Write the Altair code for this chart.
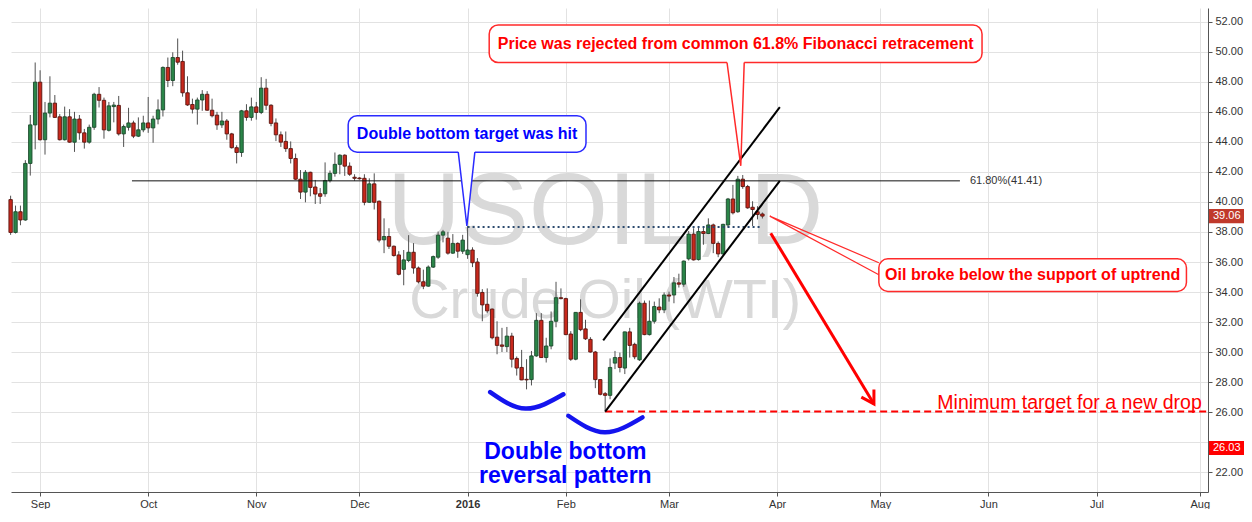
import altair as alt
import pandas as pd

FONT = "Liberation Sans"

# ---------------- candle data (bar index: 0 = 1 Sep 2015, trading days) ----------------
bar = list(range(-6, 148))
open_ = [40.16, 37.97, 39.35, 38.80, 42.57, 45.14, 47.99, 44.15, 45.93, 46.59,
         45.68, 44.15, 45.68, 43.99, 45.53, 44.61, 43.99, 44.98, 47.18, 46.78,
         44.78, 46.36, 46.44, 44.54, 44.98, 45.27, 44.39, 44.81, 45.27, 44.94,
         45.53, 46.14, 48.97, 48.10, 49.63, 49.37, 47.28, 46.50, 46.19, 46.80,
         47.18, 46.12, 45.79, 45.14, 45.40, 44.54, 43.62, 43.30, 46.08, 45.64,
         46.34, 45.97, 47.59, 46.45, 45.27, 44.48, 44.04, 43.56, 42.90, 41.52,
         40.66, 41.98, 41.00, 40.55, 40.55, 41.43, 41.91, 42.51, 43.12, 42.39,
         41.65, 41.60, 41.58, 39.98, 41.21, 40.05, 37.48, 37.70, 37.05, 36.47,
         35.51, 36.10, 36.65, 35.60, 34.68, 34.39, 35.66, 36.32, 37.79, 37.59,
         36.59, 37.24, 36.72, 36.49, 36.80, 36.00, 33.97, 33.18, 32.86, 30.99,
         30.47, 30.36, 31.06, 29.57, 28.97, 28.18, 28.16, 29.74, 32.11, 29.63,
         30.40, 32.05, 33.62, 33.56, 31.20, 29.52, 32.64, 31.54, 30.84, 30.00,
         28.16, 27.22, 27.11, 29.26, 29.63, 28.93, 31.34, 30.51, 29.48, 33.25,
         31.16, 32.05, 33.00, 32.81, 33.80, 33.80, 34.61, 34.52, 36.21, 37.86,
         36.16, 38.03, 37.90, 38.47, 37.24, 36.54, 38.47, 40.20, 39.35, 41.52,
         41.03, 39.65, 39.35, 39.20]
high = [40.42, 39.76, 39.76, 42.79, 45.80, 49.30, 48.78, 46.67, 48.38, 47.13,
        45.86, 46.36, 46.19, 46.01, 45.80, 44.87, 45.16, 47.28, 47.66, 46.96,
        46.67, 46.67, 47.07, 45.16, 46.28, 45.42, 45.64, 45.75, 47.00, 45.75,
        46.84, 49.04, 49.63, 49.98, 50.90, 50.09, 48.38, 46.89, 46.96, 47.46,
        47.39, 46.89, 46.01, 46.01, 45.53, 44.61, 43.78, 46.14, 46.52, 46.96,
        46.67, 48.32, 48.21, 46.52, 45.57, 44.70, 44.70, 44.04, 43.23, 42.13,
        42.13, 42.02, 41.47, 40.93, 42.64, 42.10, 43.30, 43.18, 43.18, 42.64,
        41.85, 41.65, 41.85, 41.58, 41.91, 40.10, 38.91, 38.25, 37.10, 36.72,
        36.80, 37.79, 37.26, 35.70, 35.49, 35.77, 36.43, 38.03, 38.14, 38.01,
        37.86, 37.31, 37.81, 38.40, 36.98, 36.26, 34.19, 34.24, 32.90, 32.05,
        31.61, 31.67, 31.28, 29.70, 30.14, 29.52, 30.07, 32.59, 32.59, 30.95,
        32.70, 34.68, 34.24, 33.62, 31.39, 32.66, 33.51, 32.15, 30.99, 30.07,
        28.18, 27.33, 29.57, 30.07, 29.96, 31.36, 31.61, 30.62, 33.36, 33.43,
        33.43, 33.36, 33.58, 33.97, 34.02, 35.00, 35.22, 36.10, 38.07, 38.25,
        38.34, 38.30, 38.91, 38.56, 37.37, 38.55, 40.27, 41.14, 41.74, 41.80,
        41.14, 40.05, 39.72, 39.30]
low = [37.81, 37.90, 38.45, 38.75, 41.76, 43.51, 44.10, 43.16, 45.64, 45.60,
       44.10, 44.10, 43.95, 43.34, 44.15, 43.56, 43.89, 44.81, 46.30, 44.22,
       44.70, 45.31, 44.43, 43.67, 44.76, 44.26, 44.33, 44.65, 44.61, 43.95,
       45.18, 45.70, 47.66, 47.72, 49.15, 47.02, 46.41, 45.90, 45.16, 46.08,
       46.08, 45.64, 44.81, 44.94, 44.15, 43.56, 42.57, 43.01, 45.42, 45.42,
       45.49, 45.86, 46.14, 45.05, 44.06, 43.67, 43.34, 42.57, 41.47, 40.20,
       39.98, 40.38, 39.87, 39.87, 40.35, 41.30, 41.69, 41.85, 41.74, 41.74,
       41.41, 41.50, 39.78, 39.95, 39.50, 37.31, 36.59, 36.87, 36.36, 35.11,
       34.45, 35.99, 35.22, 34.57, 34.19, 34.35, 35.60, 36.21, 37.31, 36.49,
       36.54, 36.28, 36.54, 36.21, 35.66, 33.69, 32.05, 32.59, 30.84, 29.85,
       30.00, 30.00, 28.97, 28.43, 28.12, 27.51, 27.77, 29.68, 29.60, 29.30,
       30.18, 31.65, 33.51, 31.12, 29.41, 29.45, 31.39, 30.80, 29.96, 27.59,
       27.11, 26.03, 26.85, 28.86, 28.64, 28.53, 29.63, 29.52, 29.41, 31.12,
       31.10, 31.89, 32.59, 32.59, 33.36, 33.25, 34.30, 34.35, 36.10, 36.10,
       36.10, 37.15, 37.86, 36.59, 36.32, 36.50, 38.30, 39.17, 39.28, 40.88,
       39.55, 38.40, 38.84, 38.90]
close = [37.97, 39.35, 38.80, 42.57, 45.14, 47.99, 44.15, 45.93, 46.59, 45.64,
         44.15, 45.68, 43.99, 45.53, 44.61, 43.99, 44.98, 47.18, 46.78, 44.81,
         46.41, 46.46, 44.54, 45.03, 45.27, 44.39, 44.81, 45.27, 44.94, 45.53,
         46.14, 48.97, 48.10, 49.63, 49.32, 47.28, 46.47, 46.19, 46.80, 47.18,
         46.12, 45.75, 45.14, 45.40, 44.54, 43.62, 43.30, 46.08, 45.64, 46.34,
         45.97, 47.59, 46.45, 45.24, 44.48, 43.99, 43.56, 42.90, 41.52, 40.66,
         41.98, 40.97, 40.53, 40.38, 41.43, 41.91, 42.51, 43.12, 42.39, 41.85,
         41.58, 41.55, 39.98, 41.21, 39.98, 37.46, 37.70, 37.05, 36.43, 35.18,
         36.14, 36.65, 35.60, 34.68, 34.39, 35.66, 36.36, 37.79, 38.01, 36.59,
         37.24, 36.72, 37.46, 36.80, 35.95, 33.91, 33.14, 32.74, 30.95, 30.44,
         30.38, 31.06, 29.52, 28.93, 28.14, 28.14, 29.74, 32.11, 29.63, 30.40,
         32.05, 33.62, 33.56, 31.16, 29.52, 32.64, 31.49, 30.88, 30.00, 28.16,
         27.18, 27.11, 28.97, 29.63, 28.97, 31.34, 30.44, 29.68, 33.25, 31.16,
         32.05, 33.03, 32.81, 33.80, 33.73, 34.61, 34.52, 36.06, 37.86, 36.14,
         38.03, 37.90, 38.47, 37.24, 36.54, 38.51, 40.20, 39.28, 41.52, 41.03,
         39.61, 39.50, 39.17, 39.06]

# ---------------- axes ----------------
month_ticks = [0, 22, 44, 65, 87, 107, 128, 150, 171, 193, 215, 236]
month_labels = ["Sep", "Oct", "Nov", "Dec", "2016", "Feb", "Mar", "Apr", "May", "Jun", "Jul", "Aug"]
price_ticks = list(range(22, 54, 2))
hidden_price_label = 24  # covered by the 26.03 price tag in the reference

# ---------------- annotations (data units: bar index / price) ----------------
fib_level = 41.41
fib_x = [18.7, 187.2]
fib_label = "61.80%(41.41)"
target_level = 38.33
target_x = [87, 147]
min_target_level = 26.03
min_target_x = [115, 240]
min_target_text = "Minimum target for a new drop"
min_target_text_pos = (182.6, 26.21)

channel_group = ["upper", "upper", "lower", "lower"]
channel_x = [114.6, 150.55, 115.0, 150.55]
channel_y = [30.77, 46.32, 26.03, 41.41]

arc_group = ["a", "a", "a", "b", "b", "b"]
arc_x = [91.6, 98.8, 106.5, 107.5, 114.9, 122.6]
arc_y = [27.33, 26.23, 27.18, 25.75, 24.65, 25.64]

arrow_x = [148.7, 169.7]
arrow_y = [37.92, 26.54]

box_text = ["Double bottom target was hit",
            "Price was rejected from common 61.8% Fibonacci retracement",
            "Oil broke below the support of uptrend"]
box_x1 = [62.7, 91.4, 170.7]
box_x2 = [111.1, 191.7, 233.3]
box_y1 = [45.75, 51.80, 36.21]
box_y2 = [43.32, 49.30, 34.04]
box_color = ["#2b2bff", "#ff2a2a", "#ff2a2a"]
box_text_color = ["#0000ff", "#ff0000", "#ff0000"]

ptr_group = ["blue", "blue", "blue", "red", "red", "red"]
ptr_x = [85.1, 86.86, 88.48, 139.8, 142.6, 143.3]
ptr_y = [43.32, 38.40, 43.32, 49.30, 42.41, 49.30]
ptr_base = [43.47, 43.47, 43.47, 49.45, 49.45, 49.45]
ptr_color = ["#2b2bff"] * 3 + ["#ff2a2a"] * 3

side_ptr_group = ["s", "s", "s"]
side_ptr_x = [170.7, 148.5, 170.7]
side_ptr_y = [35.95, 39.06, 35.15]

pattern_text = ["Double bottom", "reversal pattern"]
pattern_x = [106.9, 106.9]
pattern_y = [22.90, 21.25]

wm_text = ["USOIL, D", "Crude Oil (WTI)"]
wm_x = [115.0, 115.0]
wm_y = [37.2, 32.26]
wm_size = [102, 56]

price_tag_text = ["39.06", "26.03"]
price_tag_pos = [39.06, 23.6]
price_tag_color = ["#c0392b", "#ff0000"]

# ---------------- geometry ----------------
W, H = 1197, 484
XDOM = [-4.904, 236.67]
YDOM = [20.667, 52.933]
xs = alt.Scale(domain=XDOM, nice=False, zero=False)
ys = alt.Scale(domain=YDOM, nice=False, zero=False)

labels_js = "[" + ",".join("'%s'" % m for m in month_labels) + "]"
vals_js = "[" + ",".join(str(v) for v in month_ticks) + "]"

x_axis = alt.Axis(values=month_ticks, labelExpr="%s[indexof(%s, datum.value)]" % (labels_js, vals_js),
                  orient="bottom", grid=True, gridColor="#e2e2e2", tickSize=4, tickColor="#555555",
                  domainColor="#555555", labelColor="#333333", labelFontSize=11, labelFont=FONT,
                  labelPadding=2, labelFlush=False, title=None,
                  labelFontWeight={"condition": {"test": "datum.value == 87", "value": "bold"}, "value": "normal"})
y_axis = alt.Axis(values=price_ticks,
                  labelExpr="datum.value == %d ? '' : format(datum.value, '.2f')" % hidden_price_label,
                  orient="right", grid=True, gridColor="#e2e2e2",
                  tickSize=4, tickColor="#555555", domainColor="#555555", labelColor="#333333",
                  labelFontSize=11, labelFont=FONT, labelPadding=3, title=None)


def X(f):
    return alt.X(f, type="quantitative", scale=xs, axis=x_axis)


def Y(f):
    return alt.Y(f, type="quantitative", scale=ys, axis=y_axis)


df = pd.DataFrame({"bar": bar, "o": open_, "h": high, "l": low, "c": close})
df["dir"] = ["up" if c >= o else "down" for o, c in zip(open_, close)]

watermark = alt.Chart(pd.DataFrame({"t": wm_text, "x": wm_x, "y": wm_y, "s": wm_size})).mark_text(
    font=FONT, color="#d9d9d9", align="center", baseline="alphabetic"
).encode(x=X("x"), y=Y("y"), text="t:N", size=alt.Size("s:Q", scale=None))

wicks = alt.Chart(df).mark_rule(color="#505050", strokeWidth=1).encode(
    x=X("bar"), y=Y("l"), y2="h")

bodies = alt.Chart(df).mark_bar(size=3.4, strokeWidth=0.9).encode(
    x=X("bar"), y=Y("o"), y2="c",
    fill=alt.Fill("dir:N", scale=alt.Scale(domain=["up", "down"], range=["#2a8548", "#c8281c"]), legend=None),
    stroke=alt.Stroke("dir:N", scale=alt.Scale(domain=["up", "down"], range=["#1c4a2c", "#5a1510"]), legend=None))

fib = alt.Chart(pd.DataFrame({"x1": [fib_x[0]], "x2": [fib_x[1]], "y": [fib_level]})).mark_rule(
    color="#111111", strokeWidth=1).encode(x=X("x1"), x2="x2", y=Y("y"))
fib_txt = alt.Chart(pd.DataFrame({"x": [fib_x[1]], "y": [fib_level], "t": [fib_label]})).mark_text(
    align="left", baseline="middle", dx=10, font=FONT, fontSize=11, color="#333333").encode(
    x=X("x"), y=Y("y"), text="t:N")

target = alt.Chart(pd.DataFrame({"x1": [target_x[0]], "x2": [target_x[1]], "y": [target_level]})).mark_rule(
    color="#2c4a6e", strokeWidth=2, strokeDash=[2, 3]).encode(x=X("x1"), x2="x2", y=Y("y"))

min_line = alt.Chart(pd.DataFrame({"x1": [min_target_x[0]], "x2": [min_target_x[1]], "y": [min_target_level]})).mark_rule(
    color="#ff0000", strokeWidth=2, strokeDash=[7, 4], clip=True).encode(x=X("x1"), x2="x2", y=Y("y"))
min_txt = alt.Chart(pd.DataFrame({"x": [min_target_text_pos[0]], "y": [min_target_text_pos[1]], "t": [min_target_text]})).mark_text(
    align="left", baseline="alphabetic", font=FONT, fontSize=19.5, color="#ff0000").encode(
    x=X("x"), y=Y("y"), text="t:N")

channel = alt.Chart(pd.DataFrame({"g": channel_group, "x": channel_x, "y": channel_y})).mark_line(
    color="#000000", strokeWidth=2).encode(x=X("x"), y=Y("y"), detail="g:N")

arcs = alt.Chart(pd.DataFrame({"g": arc_group, "x": arc_x, "y": arc_y})).mark_line(
    color="#1414ee", strokeWidth=4.5, interpolate="natural", strokeCap="round").encode(
    x=X("x"), y=Y("y"), detail="g:N")

arrow = alt.Chart(pd.DataFrame({"x": arrow_x, "y": arrow_y})).mark_line(
    color="#ff0000", strokeWidth=3).encode(x=X("x"), y=Y("y"))
arrow_head = alt.Chart(pd.DataFrame({"x": [arrow_x[1]], "y": [arrow_y[1]]})).mark_point(
    shape="M-1,-0.6L0,0L-1,0.6", angle=59, size=600, filled=False, strokeWidth=3,
    color="#ff0000", opacity=1).encode(x=X("x"), y=Y("y"))

boxes_df = pd.DataFrame({"x1": box_x1, "x2": box_x2, "y1": box_y1, "y2": box_y2, "col": box_color})
boxes = alt.Chart(boxes_df).mark_rect(cornerRadius=9, fill="white", strokeWidth=1.5).encode(
    x=X("x1"), x2="x2", y=Y("y1"), y2="y2", stroke=alt.Stroke("col:N", scale=None))

ptr_df = pd.DataFrame({"g": ptr_group, "x": ptr_x, "y": ptr_y, "b": ptr_base, "col": ptr_color,
                       "k": list(range(len(ptr_x)))})
ptr_fill = alt.Chart(ptr_df).mark_area(color="white", opacity=1).encode(
    x=X("x"), y=Y("y"), y2="b", detail="g:N")
ptr_line = alt.Chart(ptr_df).mark_line(strokeWidth=1.5).encode(
    x=X("x"), y=Y("y"), detail="g:N", order="k:Q", stroke=alt.Stroke("col:N", scale=None))

side_ptr = alt.Chart(pd.DataFrame({"g": side_ptr_group, "x": side_ptr_x, "y": side_ptr_y,
                                   "k": [0, 1, 2]})).mark_line(color="#ff2a2a", strokeWidth=1.2).encode(
    x=X("x"), y=Y("y"), detail="g:N", order="k:Q")

box_txt_df = pd.DataFrame({
    "t": box_text,
    "x": [(a + b) / 2 for a, b in zip(box_x1, box_x2)],
    "y": [(a + b) / 2 for a, b in zip(box_y1, box_y2)],
    "col": box_text_color})
box_txt = alt.Chart(box_txt_df).mark_text(font=FONT, fontSize=16, fontWeight="bold",
                                          align="center", baseline="middle").encode(
    x=X("x"), y=Y("y"), text="t:N", color=alt.Color("col:N", scale=None))

pattern = alt.Chart(pd.DataFrame({"t": pattern_text, "x": pattern_x, "y": pattern_y})).mark_text(
    font=FONT, fontSize=23, fontWeight="bold", color="#0000ff", align="center", baseline="alphabetic").encode(
    x=X("x"), y=Y("y"), text="t:N")

tags_df = pd.DataFrame({"t": price_tag_text, "p": price_tag_pos, "col": price_tag_color})
tag_rect = alt.Chart(tags_df).transform_calculate(
    top="datum.p + 0.47", bot="datum.p - 0.47").mark_rect().encode(
    x=alt.value(W + 1), x2=alt.value(W + 36), y=Y("top:Q"), y2="bot:Q",
    fill=alt.Fill("col:N", scale=None))
tag_txt = alt.Chart(tags_df).mark_text(font=FONT, fontSize=11, color="white", align="left",
                                       baseline="middle").encode(
    x=alt.value(W + 5), y=Y("p"), text="t:N")

chart = alt.layer(
    watermark, wicks, bodies, fib, fib_txt, target, min_line, min_txt, channel, arcs,
    arrow, arrow_head, boxes, ptr_fill, ptr_line, side_ptr, box_txt, pattern, tag_rect, tag_txt
).properties(
    width=W, height=H, padding={"left": 0, "top": 0, "right": 0, "bottom": 0}, background="white"
).configure_view(stroke=None)

chart.save("out.html", embed_options={"renderer": "svg", "actions": False})
